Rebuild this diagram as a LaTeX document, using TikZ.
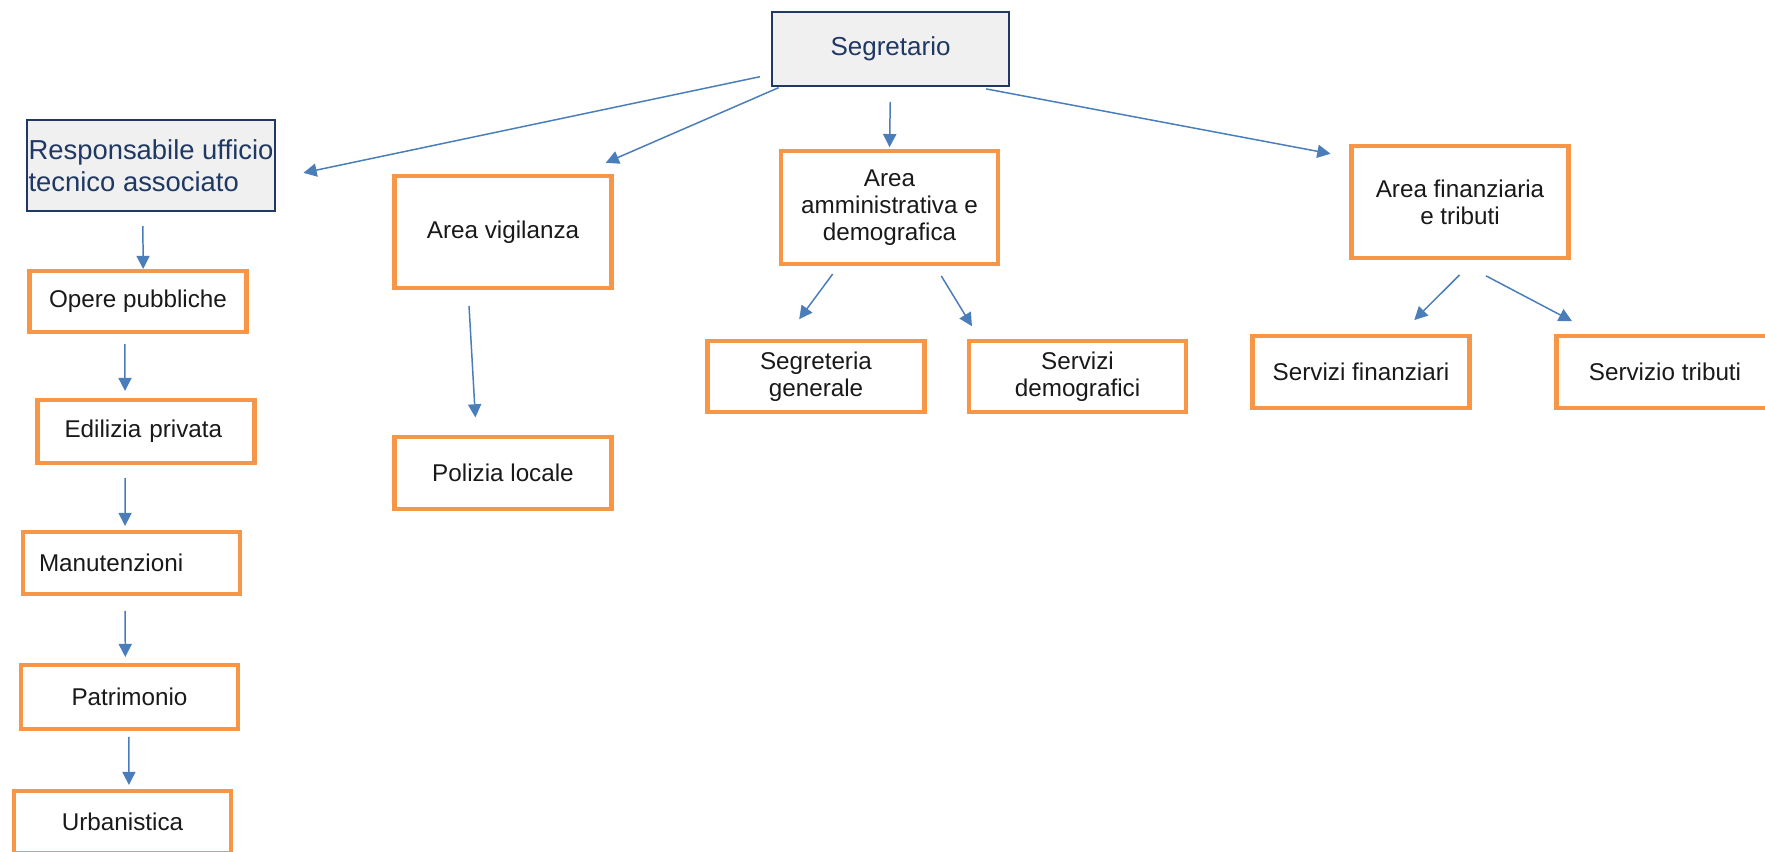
\documentclass[tikz,border=0pt]{standalone}
\usepackage{fontspec}
\setmainfont{Liberation Sans}
\usepackage{xcolor}
\usepackage{tikz}
\usetikzlibrary{arrows.meta}

\definecolor{orgorange}{HTML}{F79646}
\definecolor{orgblue}{HTML}{4A7EBB}
\definecolor{orgnavy}{HTML}{1F3864}
\definecolor{orggray}{HTML}{F0F0F0}

\begin{document}
\begin{tikzpicture}[->,>={Triangle[length=7.5pt,width=7.5pt]}, box/.style={rectangle, draw=orgorange, line width=2.3pt, minimum width=4.34cm, inner sep=0pt, align=center, text=black!90, font=\fontsize{13.8}{15.5}\selectfont}, head/.style={rectangle, draw=orgnavy, line width=1.1pt, fill=orggray, inner sep=0pt, text=orgnavy}, lnk/.style={orgblue, line width=0.85pt}]
\useasboundingbox (0,0) rectangle (35.3,-17.04);
\node[head, minimum width=4.74cm, minimum height=1.48cm, font=\fontsize{14.8}{17}\selectfont] at (17.81,-0.98) (seg) {Segretario};
\node[head, minimum width=4.96cm, minimum height=1.82cm, align=left, font=\fontsize{15.6}{18}\selectfont] at (3.02,-3.31) (ut) {Responsabile ufficio\\tecnico associato};
\node[box, minimum height=2.24cm] at (10.06,-4.64) (av) {Area vigilanza};
\node[box, minimum height=2.26cm] at (17.79,-4.15) (aa) {Area\\amministrativa e\\demografica};
\node[box, minimum height=2.24cm] at (29.2,-4.04) (af) {Area finanziaria\\e tributi};
\node[box, minimum height=1.22cm] at (2.76,-6.03) (op) {Opere pubbliche};
\node[box, minimum height=1.26cm, text width=3.7cm, align=left] at (2.92,-8.63) (ep) {\hspace{0.22cm}Edilizia privata};
\node[box, minimum height=1.24cm, text width=3.7cm, align=left] at (2.63,-11.26) (ma) {Manutenzioni};
\node[box, minimum height=1.28cm] at (2.59,-13.94) (pa) {Patrimonio};
\node[box, minimum height=1.24cm] at (2.45,-16.44) (ur) {Urbanistica};
\node[box, minimum height=1.44cm] at (10.06,-9.46) (pl) {Polizia locale};
\node[box, minimum height=1.42cm] at (16.32,-7.53) (sg) {Segreteria\\generale};
\node[box, minimum height=1.42cm] at (21.55,-7.53) (sd) {Servizi\\demografici};
\node[box, minimum height=1.44cm] at (27.22,-7.44) (sf) {Servizi finanziari};
\node[box, minimum height=1.44cm] at (33.3,-7.44) (st) {Servizio tributi};
% dal segretario
\draw[lnk, shorten <=6.4pt, shorten >=16pt] (seg.192) -- (ut.354);
\draw[lnk, shorten <=1pt, shorten >=16pt] (seg.199) -- (av.37);
\draw[lnk, shorten <=8.5pt, shorten >=1pt] (seg.south) -- (aa.north);
\draw[lnk, shorten <=6pt, shorten >=11pt] (seg.336) -- (af.158);
% ufficio tecnico
\draw[lnk, shorten <=8pt] (ut.260) -- (op.81);
\draw[lnk, shorten <=5.7pt, shorten >=4pt] (op.248) -- (ep.122);
\draw[lnk, shorten <=7.4pt, shorten >=2.3pt] (ep.238) -- (ma.101);
\draw[lnk, shorten <=8.5pt, shorten >=3.4pt] (ma.259) -- (pa.97.5);
\draw[lnk, shorten <=3.4pt, shorten >=2.3pt] (pa.269) -- (ur.79);
% aree
\draw[lnk, shorten <=9pt, shorten >=10pt] (av.239) -- (pl.125);
\draw[lnk, shorten <=5.7pt, shorten >=14pt] (aa.229) -- (sg.130.5);
\draw[lnk, shorten <=6.6pt, shorten >=8.5pt] (aa.308.6) -- (sd.159);
\draw[lnk, shorten <=12pt, shorten >=11.2pt] (af.284.5) -- (sf.44);
\draw[lnk, shorten <=19.3pt, shorten >=15.7pt] (af.266) -- (st.151);
\end{tikzpicture}
\end{document}
